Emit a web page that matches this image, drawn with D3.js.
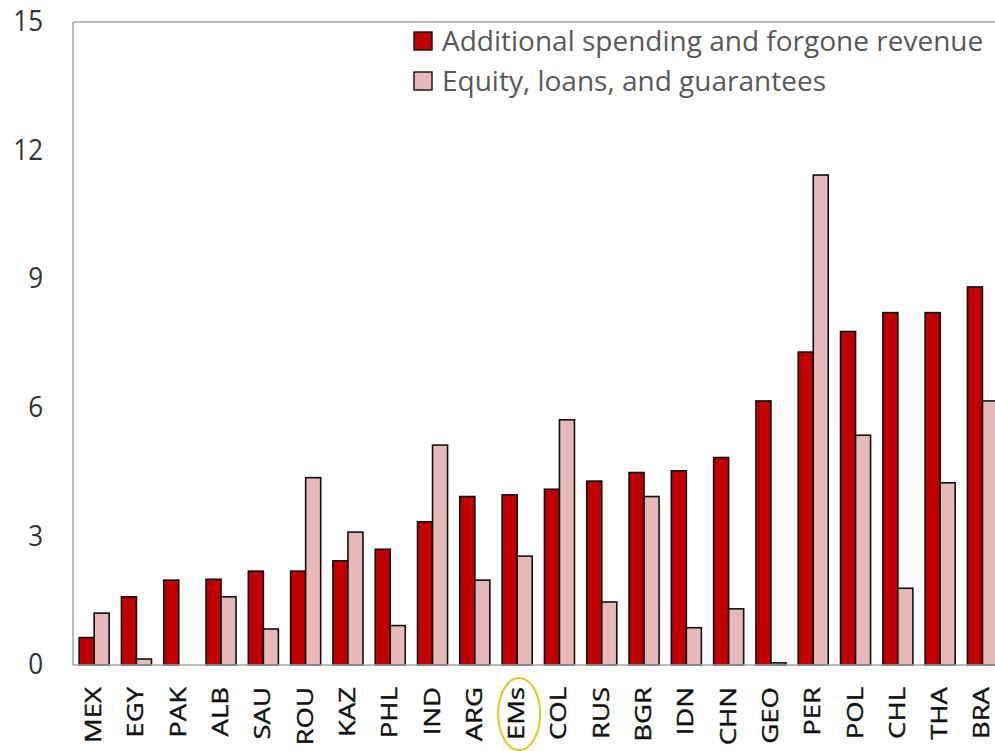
<!DOCTYPE html>
<html>
<head>
<meta charset="utf-8">
<script src="https://cdn.jsdelivr.net/npm/d3@7"></script>
<style>
  body { margin: 0; background: #fff; }
  svg { display: block; }
  text { font-family: "Open Sans", sans-serif; }
</style>
</head>
<body>
<script>
const svgWidth = 995; //Width of SVG.
const svgHeight = 751; //Height of SVG.

// Data
const countries = ['MEX', 'EGY', 'PAK', 'ALB', 'SAU', 'ROU', 'KAZ', 'PHL', 'IND', 'ARG', 'EMs',
  'COL', 'RUS', 'BGR', 'IDN', 'CHN', 'GEO', 'PER', 'POL', 'CHL', 'THA', 'BRA'];
const spending = [0.64, 1.59, 1.98, 2.0, 2.19, 2.19, 2.43, 2.7, 3.34, 3.93, 3.97,
  4.1, 4.29, 4.49, 4.53, 4.84, 6.16, 7.3, 7.78, 8.22, 8.22, 8.82];
const equity = [1.21, 0.14, 0, 1.59, 0.84, 4.37, 3.1, 0.92, 5.13, 1.98, 2.54,
  5.72, 1.47, 3.93, 0.87, 1.31, 0.05, 11.43, 5.36, 1.79, 4.25, 6.16];
const seriesNames = ['Additional spending and forgone revenue', 'Equity, loans, and guarantees'];
const seriesColours = ['#C00000', '#E6B9B8'];
const yTicks = [0, 3, 6, 9, 12, 15];

const plotLeft = 73, plotTop = 22, plotBottom = 665;
const step = 42.3; // plot runs past the right edge, like the original

const svg = d3.select('body').append('svg')
  .attr('width', svgWidth)
  .attr('height', svgHeight);

const xScale = d3.scaleBand()
  .domain(countries)
  .range([plotLeft, plotLeft + step * countries.length])
  .paddingInner(0.29)
  .paddingOuter(0.145);

const xSub = d3.scaleBand()
  .domain([0, 1])
  .range([0, xScale.bandwidth()]);

const yScale = d3.scaleLinear()
  .domain([0, 15])
  .range([plotBottom, plotTop]);

// y axis labels (no tick marks in the original)
const yAxis = d3.axisLeft(yScale).tickValues(yTicks).tickSize(0).tickPadding(30);
const gy = svg.append('g')
  .attr('transform', 'translate(' + plotLeft + ',0)')
  .call(yAxis);
gy.select('.domain').remove();
gy.selectAll('text')
  .attr('font-family', '"Open Sans", sans-serif')
  .attr('font-size', 26)
  .attr('fill', '#333')
  .attr('transform', 'scale(1,1.1)')
  .attr('y', function () { return 0; })
  .each(function (d) {
    // keep the label centred on its value after the vertical stretch
    d3.select(this.parentNode).attr('transform', 'translate(0,' + yScale(d) + ')');
    d3.select(this).attr('transform', 'scale(1,1.1)');
  });

// bars
const rows = countries.map((c, i) => ({ c: c, vals: [spending[i], equity[i]] }));
const groups = svg.append('g').selectAll('g')
  .data(rows)
  .enter()
  .append('g')
  .attr('transform', d => 'translate(' + xScale(d.c) + ',0)');

groups.selectAll('rect')
  .data(d => d.vals.map((v, k) => ({ v: v, k: k })).filter(d => d.v > 0))
  .enter()
  .append('rect')
  .attr('x', d => xSub(d.k))
  .attr('y', d => yScale(d.v))
  .attr('width', xSub.bandwidth())
  .attr('height', d => yScale(0) - yScale(d.v))
  .attr('fill', d => seriesColours[d.k])
  .attr('stroke', '#111')
  .attr('stroke-width', 1.6);

// frame lines: left, bottom, top
svg.append('line').attr('x1', plotLeft).attr('x2', plotLeft).attr('y1', plotTop).attr('y2', plotBottom)
  .attr('stroke', '#a6a6a6').attr('stroke-width', 1.5);
svg.append('line').attr('x1', plotLeft).attr('x2', svgWidth).attr('y1', plotBottom).attr('y2', plotBottom)
  .attr('stroke', '#a6a6a6').attr('stroke-width', 1.5);
svg.append('line').attr('x1', plotLeft).attr('x2', svgWidth).attr('y1', plotTop).attr('y2', plotTop)
  .attr('stroke', '#a6a6a6').attr('stroke-width', 1.5);

// category labels, rotated
svg.append('g').selectAll('text')
  .data(countries)
  .enter()
  .append('text')
  .attr('transform', d => 'translate(' + (xScale(d) + xScale.bandwidth() / 2 + 7) + ',687) rotate(-90) scale(1.25,1)')
  .attr('text-anchor', 'end')
  .attr('font-size', 22)
  .attr('fill', '#111')
  .attr('stroke', '#111')
  .attr('stroke-width', 0.4)
  .text(d => d);

// highlight around EMs
svg.append('ellipse')
  .attr('cx', xScale('EMs') + xScale.bandwidth() / 2 + 2)
  .attr('cy', 714)
  .attr('rx', 21)
  .attr('ry', 36)
  .attr('fill', 'none')
  .attr('stroke', '#E3CB2E')
  .attr('stroke-width', 2.2);

// legend
const legend = svg.append('g').attr('transform', 'translate(414,32)');
seriesNames.forEach((name, i) => {
  legend.append('rect')
    .attr('x', 0)
    .attr('y', i * 40)
    .attr('width', 18)
    .attr('height', 18)
    .attr('fill', seriesColours[i])
    .attr('stroke', '#111')
    .attr('stroke-width', 1.4);
  legend.append('text')
    .attr('x', 28)
    .attr('y', i * 40 + 19)
    .attr('font-size', 28)
    .attr('fill', '#595959')
    .text(name);
});
</script>
</body>
</html>
